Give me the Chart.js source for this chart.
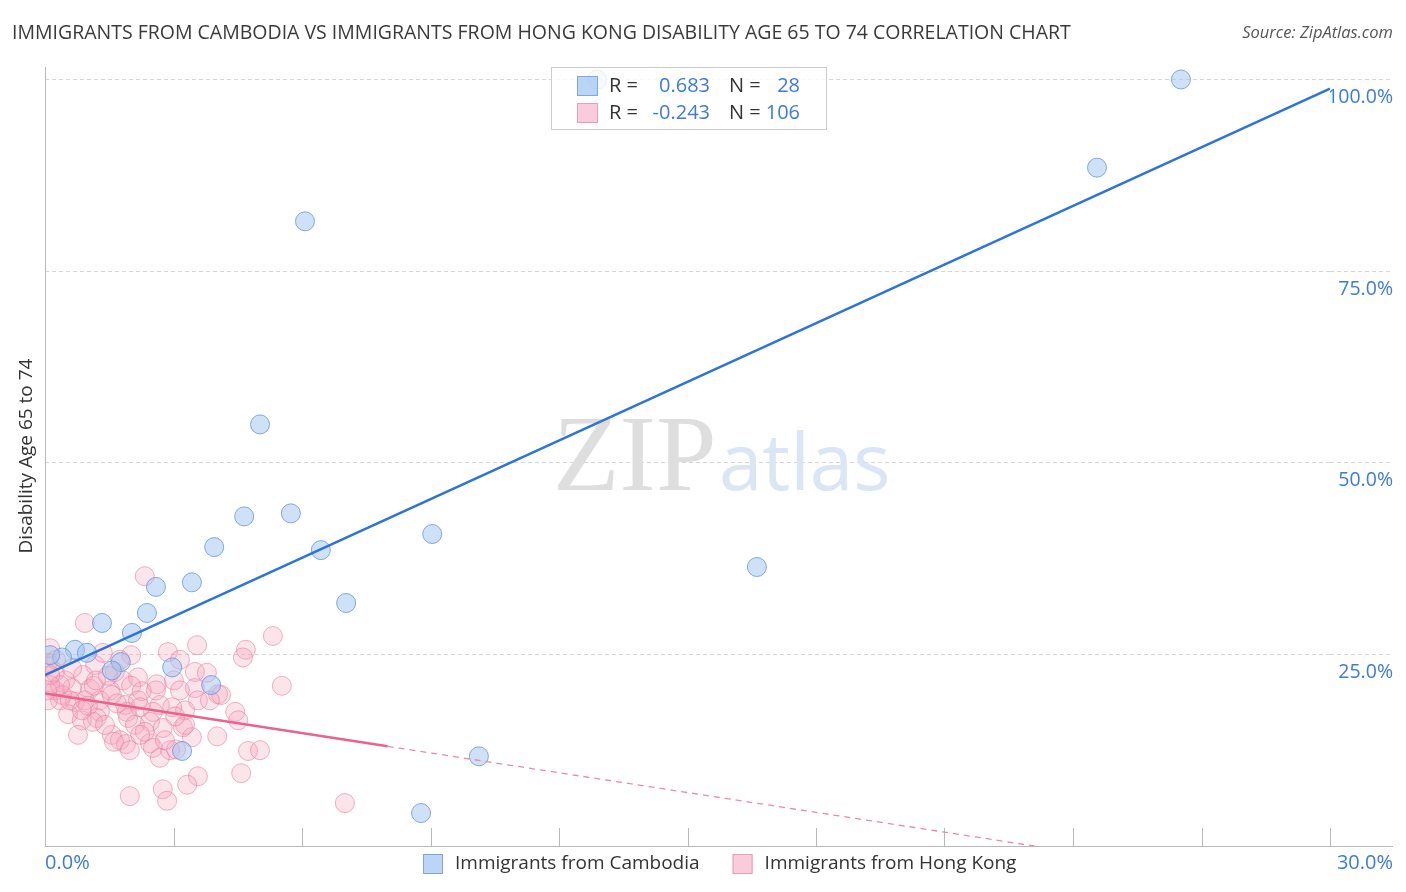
<!DOCTYPE html>
<html>
<head>
<meta charset="utf-8">
<script src="https://cdn.jsdelivr.net/npm/chart.js@4.4.0/dist/chart.umd.min.js"></script>
<style>
html, body { margin: 0; padding: 0; background: #fff; }
</style>
</head>
<body>
<canvas id="mychart" width="1406" height="892"></canvas>
<script>
const titleText = 'IMMIGRANTS FROM CAMBODIA VS IMMIGRANTS FROM HONG KONG DISABILITY AGE 65 TO 74 CORRELATION CHART';
const sourceText = 'Source: ZipAtlas.com';
const yAxisTitle = 'Disability Age 65 to 74';
const seriesNames = ['Immigrants from Cambodia', 'Immigrants from Hong Kong'];
const statsR = ['0.683', '-0.243'];
const statsN = ['28', '106'];

// [x %, y %]
const cambodia = [
  [26.52, 100.0], [24.56, 88.5], [6.07, 81.5], [5.02, 55.0], [4.65, 43.0],
  [5.74, 43.4], [3.95, 39.0], [9.04, 40.7], [6.44, 38.6], [16.62, 36.4],
  [3.43, 34.4], [2.59, 33.8], [7.03, 31.7], [2.38, 30.4], [1.33, 29.1],
  [2.03, 27.8], [0.70, 25.6], [0.98, 25.2], [0.40, 24.6], [0.12, 24.9],
  [1.77, 24.0], [1.56, 22.9], [2.97, 23.3], [3.88, 21.0], [3.20, 12.4],
  [8.78, 4.3], [10.13, 11.7], [12.89, 100.0]
];

const hongKong = [
  [2.33, 35.2], [0.93, 29.1], [3.55, 26.2], [5.32, 27.4], [4.69, 25.6],
  [4.62, 24.6], [2.87, 25.3], [3.15, 24.3], [2.01, 24.9], [1.17, 23.6],
  [0.12, 25.8], [0.07, 23.9], [0.23, 22.7], [0.47, 21.6], [0.89, 22.3],
  [1.63, 22.7], [1.82, 21.6], [2.17, 22.0], [2.61, 21.1], [3.01, 21.6],
  [3.50, 22.7], [3.78, 22.6], [3.50, 20.6], [4.04, 19.8], [4.11, 19.7],
  [5.53, 20.9], [2.01, 20.9], [2.26, 20.2], [1.52, 20.3], [1.05, 20.5],
  [0.63, 20.6], [0.23, 20.3], [0.35, 19.0], [0.70, 18.8], [0.54, 17.2],
  [0.93, 19.0], [1.28, 19.0], [1.56, 19.7], [1.87, 18.4], [2.17, 19.0],
  [2.68, 18.4], [2.97, 18.1], [3.27, 17.7], [2.52, 17.5], [1.91, 17.5],
  [1.28, 17.5], [1.21, 16.7], [0.86, 16.4], [1.12, 16.2], [1.94, 16.7],
  [2.45, 16.2], [3.22, 15.5], [4.44, 17.5], [4.51, 16.4], [0.77, 14.5],
  [1.56, 14.5], [1.75, 13.8], [1.89, 13.3], [1.61, 13.6], [2.45, 13.4],
  [2.52, 12.8], [2.92, 12.5], [3.06, 12.6], [3.43, 14.2], [4.02, 14.3],
  [4.74, 12.4], [5.02, 12.5], [2.68, 11.5], [3.57, 9.1], [3.32, 8.0],
  [2.75, 7.4], [2.85, 5.9], [1.98, 6.5], [4.58, 9.5], [7.00, 5.6],
  [3.27, 15.8], [1.14, 20.9], [3.15, 20.3], [1.35, 25.2], [2.22, 18.1],
  [0.40, 19.7], [0.58, 19.0], [0.07, 19.0], [0.12, 21.0], [0.26, 24.3],
  [1.47, 22.2], [1.68, 18.6], [0.35, 21.0], [1.00, 18.3], [1.40, 15.8],
  [2.10, 15.8], [2.33, 14.9], [2.75, 15.4], [3.04, 16.9], [3.57, 19.0],
  [2.59, 20.3], [1.75, 24.3], [0.63, 23.2], [0.12, 22.3], [2.80, 13.8],
  [1.19, 21.6], [1.98, 12.5], [0.86, 17.7], [0.05, 20.3], [2.22, 14.5],
  [3.85, 19.0]
];

// trend lines [x, y]
const cambodiaTrend = [[0, 22.3], [30, 98.8]];
const hongKongTrend = [[0, 19.9], [8, 13.0]];
const hongKongTrendExt = [[8, 13.0], [23.1, 0]];

const xTicks = [0, 30];

const blue = '#3d7bd8';
const toXY = arr => arr.map(p => ({x: p[0], y: p[1]}));

const decor = {
  id: 'decor',
  beforeDatasetsDraw(chart) {
    const {ctx, chartArea: a, scales: {x}} = chart;
    ctx.save();
    // watermark
    ctx.textBaseline = 'alphabetic';
    ctx.textAlign = 'left';
    ctx.font = '109px "Liberation Serif"';
    ctx.fillStyle = '#dedede';
    ctx.fillText('ZIP', 553, 490);
    ctx.font = '78px "Open Sans"';
    ctx.fillStyle = '#dae6f6';
    ctx.fillText('atlas', 719, 490);

    // axis lines and tick marks
    ctx.strokeStyle = '#b8b8b8';
    ctx.lineWidth = 1;
    ctx.beginPath();
    ctx.moveTo(a.left + 0.5, a.top - 1);
    ctx.lineTo(a.left + 0.5, a.bottom);
    ctx.moveTo(a.left, a.bottom + 0.5);
    ctx.lineTo(chart.width - 13, a.bottom + 0.5);
    for (let v = 3; v <= 30; v += 3) {
      const px = Math.round(x.getPixelForValue(v)) + 0.5;
      ctx.moveTo(px, a.bottom - 18);
      ctx.lineTo(px, a.bottom);
    }
    ctx.stroke();
    ctx.restore();
  },
  afterDatasetsDraw(chart) {
    const {ctx} = chart;
    ctx.save();
    // stats box
    ctx.fillStyle = 'rgba(255,255,255,0.82)';
    ctx.strokeStyle = '#cccccc';
    ctx.lineWidth = 1;
    ctx.fillRect(551, 67, 276, 63);
    ctx.strokeRect(551.5, 67.5, 275, 62);
    const boxFill = ['rgba(150,190,240,0.65)', 'rgba(247,175,198,0.65)'];
    const boxLine = ['#7ea7e6', '#ec9cb5'];
    ctx.font = '20px "Open Sans"';
    ctx.textBaseline = 'middle';
    [86, 113].forEach((cy, i) => {
      ctx.fillStyle = boxFill[i];
      ctx.fillRect(577, cy - 10, 21, 20);
      ctx.strokeStyle = boxLine[i];
      ctx.strokeRect(577.5, cy - 9.5, 20, 19);
      ctx.fillStyle = '#333';
      ctx.textAlign = 'left';
      ctx.fillText('R =', 609, cy);
      ctx.fillText('N =', 729, cy);
      ctx.fillStyle = blue;
      ctx.textAlign = 'right';
      ctx.fillText(statsR[i], 710, cy);
      ctx.fillText(statsN[i], 800, cy);
    });
    ctx.restore();
  },
  afterDraw(chart) {
    const {ctx, chartArea: a, scales: {x}} = chart;
    ctx.save();
    // title and source
    ctx.textBaseline = 'middle';
    ctx.textAlign = 'left';
    ctx.fillStyle = '#3a3a3a';
    ctx.font = '19.5px "Open Sans"';
    ctx.fillText(titleText, 12, 33);
    ctx.textAlign = 'right';
    ctx.fillStyle = '#555';
    ctx.font = 'italic 16.5px "Open Sans"';
    ctx.fillText(sourceText, chart.width - 13, 33);

    // y axis title
    ctx.save();
    ctx.translate(27, 456);
    ctx.rotate(-Math.PI / 2);
    ctx.textAlign = 'center';
    ctx.fillStyle = '#333';
    ctx.font = '19px "Open Sans"';
    ctx.fillText(yAxisTitle, 0, 0);
    ctx.restore();

    // x tick labels
    ctx.font = '20px "Open Sans"';
    ctx.fillStyle = blue;
    ctx.textAlign = 'left';
    ctx.fillText(xTicks[0].toFixed(1) + '%', x.getPixelForValue(xTicks[0]), 863);
    ctx.textAlign = 'right';
    ctx.fillText(xTicks[1].toFixed(1) + '%', chart.width - 13, 863);

    // legend
    ctx.font = '19px "Open Sans"';
    const w0 = ctx.measureText(seriesNames[0]).width;
    const w1 = ctx.measureText(seriesNames[1]).width;
    const total = 20 + 12 + w0 + 33 + 20 + 12 + w1;
    let lx = Math.round(720 - total / 2);
    const fills = ['rgba(150,190,240,0.65)', 'rgba(247,175,198,0.65)'];
    const lines = ['#7ea7e6', '#ec9cb5'];
    [w0, w1].forEach((w, i) => {
      ctx.fillStyle = fills[i];
      ctx.fillRect(lx, 854, 20, 20);
      ctx.strokeStyle = lines[i];
      ctx.strokeRect(lx + 0.5, 854.5, 19, 19);
      ctx.fillStyle = '#333';
      ctx.textAlign = 'left';
      ctx.fillText(seriesNames[i], lx + 32, 864);
      lx += 32 + w + 33;
    });
    ctx.restore();
  }
};

const myChart = document.querySelector('#mychart');

const data = {
  datasets: [
    {
      label: 'cambodia trend',
      data: toXY(cambodiaTrend),
      showLine: true,
      borderColor: '#2e74d8',
      borderWidth: 2.5,
      pointRadius: 0,
      order: 0
    },
    {
      label: 'hong kong trend',
      data: toXY(hongKongTrend),
      showLine: true,
      borderColor: '#e8638f',
      borderWidth: 2.5,
      pointRadius: 0,
      order: 0
    },
    {
      label: 'hong kong trend ext',
      data: toXY(hongKongTrendExt),
      showLine: true,
      borderColor: '#ec89a9',
      borderWidth: 1.3,
      borderDash: [6, 5],
      pointRadius: 0,
      order: 0
    },
    {
      label: seriesNames[0],
      data: toXY(cambodia),
      backgroundColor: 'rgba(160,196,240,0.5)',
      borderColor: 'rgba(100,150,222,0.8)',
      borderWidth: 1,
      pointRadius: 9.5,
      order: 1
    },
    {
      label: seriesNames[1],
      data: toXY(hongKong),
      backgroundColor: 'rgba(245,165,190,0.3)',
      borderColor: 'rgba(232,125,158,0.6)',
      borderWidth: 1,
      pointRadius: 9.5,
      order: 2
    }
  ]
};

const config = {
  type: 'scatter',
  data: data,
  options: {
    responsive: false,
    animation: false,
    layout: { padding: { top: 68, left: 45, right: 13, bottom: 0 } },
    plugins: {
      legend: { display: false },
      tooltip: { enabled: false }
    },
    scales: {
      x: {
        type: 'linear',
        min: 0,
        max: 30,
        afterFit(s) { s.height = 46; },
        grid: { display: false, drawTicks: false },
        border: { display: false },
        ticks: { display: false, stepSize: 3 }
      },
      y: {
        position: 'right',
        min: 0,
        max: 101.5,
        afterFit(s) { s.width = 63; },
        border: { display: false, dash: [4, 3] },
        grid: {
          color: c => c.tick && c.tick.value === 0 ? 'rgba(0,0,0,0)' : '#d6d6d6',
          tickColor: c => c.tick && c.tick.value === 0 ? 'rgba(0,0,0,0)' : '#d6d6d6',
          drawTicks: true,
          tickLength: 63,
          tickBorderDash: [4, 3]
        },
        ticks: {
          stepSize: 25,
          includeBounds: false,
          crossAlign: 'far',
          labelOffset: 18,
          padding: 0,
          color: blue,
          font: { family: 'Open Sans', size: 19.5 },
          callback: v => v === 0 ? '' : v.toFixed(1) + '%'
        }
      }
    }
  },
  plugins: [decor]
};

const scatterChart = new Chart(myChart, config);
</script>
</body>
</html>
